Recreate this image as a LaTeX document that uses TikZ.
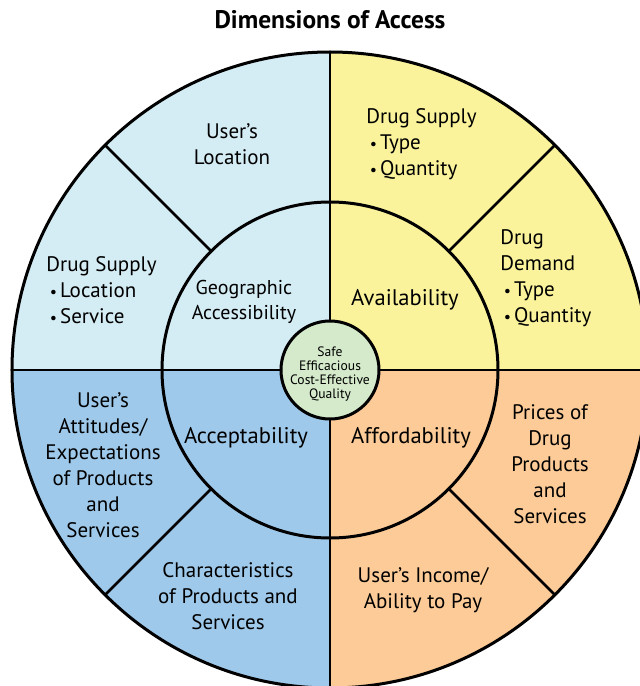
\documentclass[tikz,border=0pt]{standalone}
\usepackage{fontspec}
\setmainfont{PT Sans}
\definecolor{geocol}{HTML}{D4ECF4}
\definecolor{availcol}{HTML}{FAF39C}
\definecolor{acceptcol}{HTML}{9FC9EA}
\definecolor{affordcol}{HTML}{FCCB98}
\definecolor{hubcol}{HTML}{D5EACB}
\newcommand{\bul}{\,{\footnotesize•}\hspace{1.5pt}}
\begin{document}
\begin{tikzpicture}[
            x = 0.5pt, y = 0.5pt, % one unit per pixel
            rim/.style = {line width=1.5pt}, % circle outlines
            spoke/.style = {line width=1.3pt}, % dividing lines
            txt/.style = {align=center, inner sep=0pt, font=\fontsize{10.5}{13}\selectfont},
            lst/.style = {align=left, anchor=west, inner sep=0pt, font=\fontsize{10.5}{13}\selectfont},
            dim/.style = {align=center, inner sep=0pt, font=\fontsize{11.3}{13}\selectfont}
        ]

	\useasboundingbox (-330,-316) rectangle (310,370);

	% quadrants
	\fill[geocol] (0,0) -- (180:318) arc (180:90:318) -- cycle;
	\fill[availcol] (0,0) -- (90:318) arc (90:0:318) -- cycle;
	\fill[affordcol] (0,0) -- (0:318) arc (360:270:318) -- cycle;
	\fill[acceptcol] (0,0) -- (270:318) arc (270:180:318) -- cycle;

	% circles and spokes
	\draw[rim] (0,0) circle (318);
	\draw[rim] (0,0) circle (168);
	\draw[spoke] (-318,0) -- (318,0);
	\draw[spoke] (0,-318) -- (0,318);
	\foreach \a in {45,135,225,315}
		\draw[spoke] (\a:168) -- (\a:318);
	\draw[rim, fill=hubcol] (0,0) circle (49);

	% title
	\node[font=\bfseries\fontsize{12.7}{14}\selectfont] (title) at (0,350) {Dimensions of Access};

	% outer ring
	\node[txt] (loc) at (-98,226) {User’s\\Location};
	\node[lst] (supA) at (36,226) {Drug Supply\\\bul Type\\\bul Quantity};
	\node[lst] (dem) at (170,92) {Drug\\Demand\\\bul Type\\\bul Quantity};
	\node[lst] (supG) at (-284,80) {Drug Supply\\\bul Location\\\bul Service};
	\node[txt] (att) at (-227,-95) {User’s\\Attitudes/\\Expectations\\of Products\\and\\Services};
	\node[txt] (prc) at (220,-94) {Prices of\\Drug\\Products\\and\\Services};
	\node[txt] (chr) at (-102,-226) {Characteristics\\of Products and\\Services};
	\node[txt] (inc) at (93,-220) {User’s Income/\\Ability to Pay};

	% inner ring
	\node[txt, font=\fontsize{10}{12.5}\selectfont] (geo) at (-86,68) {Geographic\\Accessibility};
	\node[dim] (avail) at (75,70) {Availability};
	\node[dim] (accept) at (-84,-68) {Acceptability};
	\node[dim] (afford) at (81,-68) {Affordability};

	% hub
	\node[txt, font=\fontsize{6.8}{7}\selectfont] (hub) at (0,-4) {Safe\\Efficacious\\Cost-Effective\\Quality};
\end{tikzpicture}
\end{document}
